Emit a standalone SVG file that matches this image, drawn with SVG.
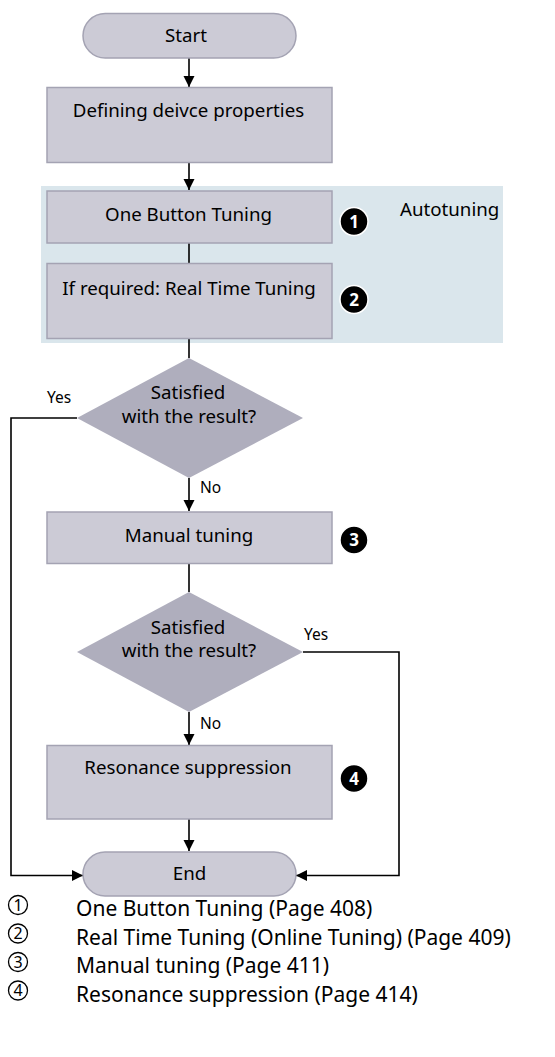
<svg xmlns="http://www.w3.org/2000/svg" width="555" height="1057" viewBox="0 0 555 1057">
<style>
.box{fill:#cccbd6;stroke:#a4a3b3;stroke-width:1.5}
.dia{fill:#afaebd;stroke:none}
.t{font-family:"Noto Sans","Open Sans",sans-serif;font-size:18.7px;fill:#000;text-anchor:middle}
.l{font-family:"Noto Sans","Open Sans",sans-serif;font-size:15.5px;fill:#000}
.lg{font-family:"Noto Sans","Open Sans",sans-serif;font-size:21px;fill:#000}
.c{fill:none;stroke:#000;stroke-width:1.6}
.badge{fill:#000;stroke:#fff;stroke-width:1.5}
.bn{font-family:"Noto Sans","Open Sans",sans-serif;font-size:17px;font-weight:bold;fill:#fff;text-anchor:middle}
.lc{fill:none;stroke:#000;stroke-width:1.3}
.ln{font-family:"Noto Sans","Open Sans",sans-serif;font-size:16px;fill:#000;text-anchor:middle}
</style>
<defs>
<marker id="arr" viewBox="0 0 10 10" refX="10" refY="5" markerWidth="11" markerHeight="13" markerUnits="userSpaceOnUse" orient="auto">
<path d="M0,0 L10,5 L0,10 z" fill="#000"/>
</marker>
</defs>
<rect id="autotuning-region" x="41" y="186" width="462" height="157" fill="#dae6ec"/>
<text class="t" x="400" y="216" style="text-anchor:start">Autotuning</text>
<g id="connectors">
<path class="c" d="M189,58 L189,87" marker-end="url(#arr)"/>
<path class="c" d="M189,162 L189,190" marker-end="url(#arr)"/>
<path class="c" d="M189,243 L189,263"/>
<path class="c" d="M189,338 L189,358"/>
<path class="c" d="M189,478 L189,511" marker-end="url(#arr)"/>
<path class="c" d="M189,563 L189,592"/>
<path class="c" d="M189,712 L189,745" marker-end="url(#arr)"/>
<path class="c" d="M189,819 L189,851" marker-end="url(#arr)"/>
<path class="c" d="M77,418 L11,418 L11,875.5 L83,875.5" marker-end="url(#arr)"/>
<path class="c" d="M303,652 L399,652 L399,875.5 L296,875.5" marker-end="url(#arr)"/>
<text class="l" x="47" y="403">Yes</text>
<text class="l" x="200" y="493">No</text>
<text class="l" x="304" y="640">Yes</text>
<text class="l" x="200" y="729">No</text>
</g>
<g id="start">
<rect class="box" x="83" y="13.5" width="213" height="44.5" rx="22.25"/>
<text class="t" x="186" y="41.5">Start</text>
</g>
<g id="define">
<rect class="box" x="47" y="87.5" width="285" height="75"/>
<text class="t" x="188.5" y="117">Defining deivce properties</text>
</g>
<g id="obt">
<rect class="box" x="47" y="191" width="285" height="52"/>
<text class="t" x="188.5" y="221">One Button Tuning</text>
<circle class="badge" cx="354" cy="221.5" r="14"/>
<text class="bn" x="354" y="227.5">1</text>
</g>
<g id="rtt">
<rect class="box" x="47" y="263.5" width="285" height="75"/>
<text class="t" x="189" y="294.5">If required: Real Time Tuning</text>
<circle class="badge" cx="354" cy="299.5" r="14"/>
<text class="bn" x="354" y="305.5">2</text>
</g>
<g id="decision1">
<polygon class="dia" points="189,358 303,418 189,478 77,418"/>
<text class="t" x="188" y="399">Satisfied</text>
<text class="t" x="189" y="423">with the result?</text>
</g>
<g id="manual">
<rect class="box" x="47" y="512" width="285" height="51.5"/>
<text class="t" x="189" y="542">Manual tuning</text>
<circle class="badge" cx="354" cy="540" r="14"/>
<text class="bn" x="354" y="546">3</text>
</g>
<g id="decision2">
<polygon class="dia" points="189,592 303,652 189,712 77,652"/>
<text class="t" x="188" y="633.5">Satisfied</text>
<text class="t" x="189" y="657">with the result?</text>
</g>
<g id="resonance">
<rect class="box" x="47" y="745.5" width="285" height="73.5"/>
<text class="t" x="188" y="774">Resonance suppression</text>
<circle class="badge" cx="354" cy="778.5" r="14"/>
<text class="bn" x="354" y="784.5">4</text>
</g>
<g id="end">
<rect class="box" x="83" y="852" width="213" height="44" rx="22"/>
<text class="t" x="189.5" y="879.5">End</text>
</g>
<g id="legend">
<circle class="lc" cx="18" cy="905" r="9.5"/><text class="ln" x="18" y="910.5">1</text>
<text class="lg" x="76" y="916">One Button Tuning (Page 408)</text>
<circle class="lc" cx="18" cy="933.5" r="9.5"/><text class="ln" x="18" y="939">2</text>
<text class="lg" x="76" y="944.5">Real Time Tuning (Online Tuning) (Page 409)</text>
<circle class="lc" cx="18" cy="962" r="9.5"/><text class="ln" x="18" y="967.5">3</text>
<text class="lg" x="76" y="973">Manual tuning (Page 411)</text>
<circle class="lc" cx="18" cy="990.5" r="9.5"/><text class="ln" x="18" y="996">4</text>
<text class="lg" x="76" y="1001.5">Resonance suppression (Page 414)</text>
</g>
</svg>
